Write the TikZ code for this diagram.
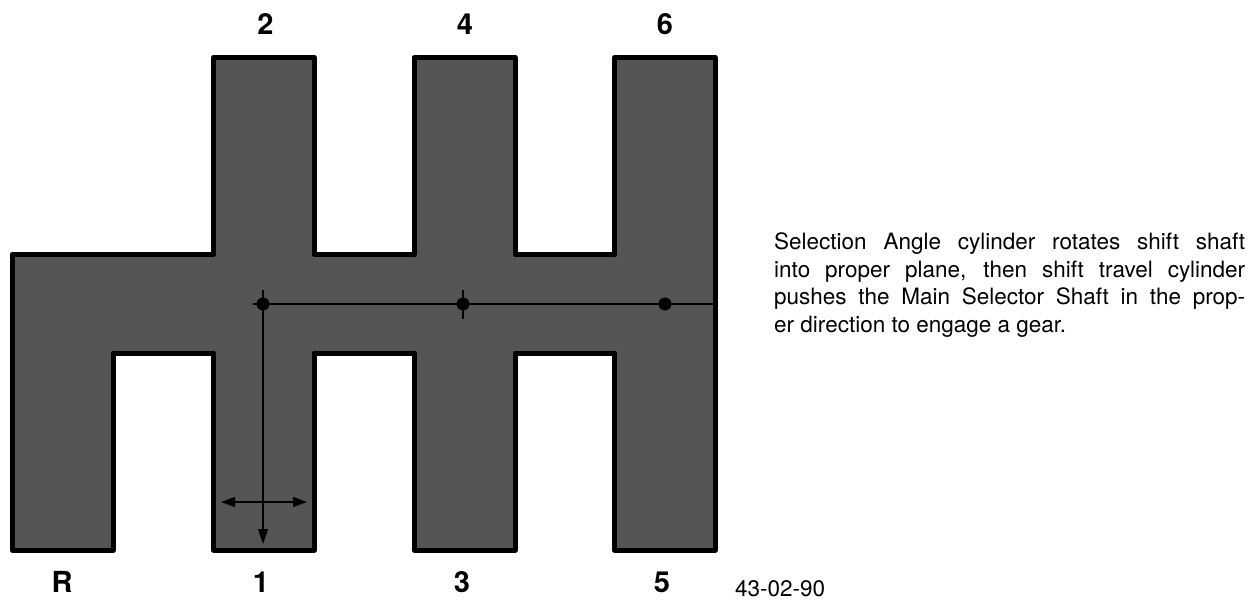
\documentclass[tikz,border=0pt]{standalone}
\usepackage{fontspec}
\setmainfont{TeX Gyre Heros}
\usetikzlibrary{arrows.meta}
\definecolor{plate}{HTML}{555555}
\begin{document}
\begin{tikzpicture}[x=1bp,y=-1bp,
  outline/.style={line width=5bp, line join=round, draw=black, fill=plate},
  guide/.style={line width=1.3bp, draw=black},
  tipped/.style={guide, -{Triangle[length=15bp,width=10bp]}},
  twotip/.style={guide, {Triangle[length=14bp,width=10bp]}-{Triangle[length=14bp,width=10bp]}},
  pivot/.style={circle, fill=black, inner sep=0pt, minimum size=13bp},
  gear/.style={font=\fontsize{29bp}{34bp}\selectfont\bfseries, inner sep=0pt, anchor=base},
  note/.style={font=\fontsize{22.5bp}{27.5bp}\selectfont, inner sep=0pt, anchor=base west}]
\useasboundingbox (0,0) rectangle (1260,601);
% gate plate
\draw[outline] (12,254.5) -- (213.5,254.5) -- (213.5,57.5) -- (314,57.5) -- (314,254.5)
  -- (414,254.5) -- (414,57.5) -- (515,57.5) -- (515,254.5) -- (614.5,254.5)
  -- (614.5,57.5) -- (715,57.5) -- (715,550) -- (614.5,550) -- (614.5,353)
  -- (515,353) -- (515,550) -- (414,550) -- (414,353) -- (314,353) -- (314,550)
  -- (213.5,550) -- (213.5,353) -- (113,353) -- (113,550) -- (12,550) -- cycle;
% guide coordinates
\coordinate (hl) at (253,304);
\coordinate (hr) at (713,304);
\coordinate (vt) at (263,290);
\coordinate (vb) at (263,544);
\coordinate (tt) at (463,290);
\coordinate (tb) at (463,319);
\coordinate (al) at (221,502);
\coordinate (ar) at (307,502);
\draw[guide] (hl) -- (hr);
\draw[tipped] (vt) -- (vb);
\draw[guide] (tt) -- (tb);
\draw[twotip] (al) -- (ar);
\node[pivot] (p1) at (263,304) {};
\node[pivot] (p2) at (463,304) {};
\node[pivot] (p3) at (665,304) {};
% gear labels
\node[gear] (g2) at (265.5,34.5) {2};
\node[gear] (g4) at (465,34.5) {4};
\node[gear] (g6) at (665,34.5) {6};
\node[gear] (gR) at (62,592.7) {R};
\node[gear] (g1) at (261,592.7) {1};
\node[gear] (g3) at (462,592.7) {3};
\node[gear] (g5) at (662,592.7) {5};
% text
\node[note] (desc) at (774,250) {\vtop{\hsize=471bp \baselineskip=27.5bp
  \hbox to 471bp{Selection Angle cylinder rotates shift shaft}
  \hbox to 471bp{into proper plane, then shift travel cylinder}
  \hbox to 471bp{pushes the Main Selector Shaft in the prop-}
  \hbox{er direction to engage a gear.}}};
\node[note] (code) at (735,596.7) {43-02-90};
\end{tikzpicture}
\end{document}
